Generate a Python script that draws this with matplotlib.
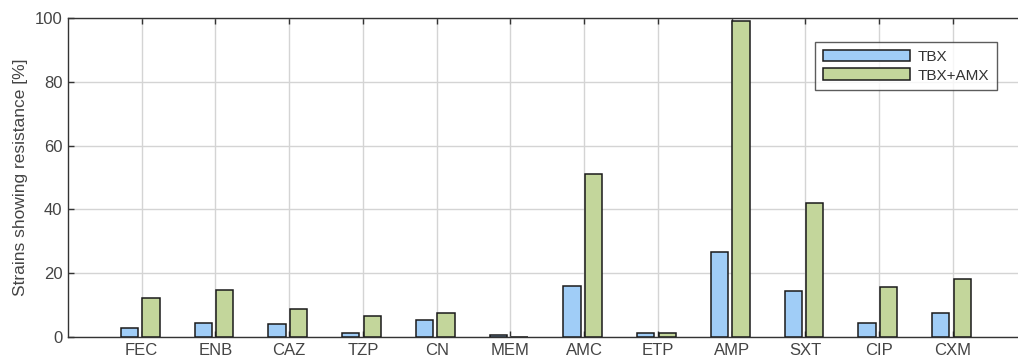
import matplotlib
matplotlib.use("Agg")
import matplotlib.pyplot as plt
import numpy as np

categories = ["FEC", "ENB", "CAZ", "TZP", "CN", "MEM", "AMC", "ETP", "AMP", "SXT", "CIP", "CXM"]
tbx = [2.7, 4.5, 4.1, 1.2, 5.3, 0.5, 16.0, 1.2, 26.5, 14.5, 4.5, 7.5]
tbx_amx = [12.3, 14.6, 8.8, 6.7, 7.4, 0.0, 51.0, 1.2, 99.2, 42.1, 15.6, 18.1]
series_names = ["TBX", "TBX+AMX"]
yticks = [0, 20, 40, 60, 80, 100]

plt.rcParams['font.family'] = ['Liberation Sans', 'DejaVu Sans']

fig = plt.figure(figsize=(10.18, 3.56), dpi=100)
ax = fig.add_axes([68/1018, 1-337/356, (1026.7-68)/1018, (337-18)/356])

x = np.arange(1, len(categories) + 1)
w = 0.235
blue = '#a0cdf7'
green = '#c3d69b'
edge = '#1a1a1a'
ax.bar(x - 0.165, tbx, w, color=blue, edgecolor=edge, linewidth=1.1, label=series_names[0], zorder=3)
ax.bar(x + 0.125, tbx_amx, w, color=green, edgecolor=edge, linewidth=1.1, label=series_names[1], zorder=3)

ax.set_xlim(0, 13)
ax.set_ylim(0, 100)
ax.set_xticks(x)
ax.set_xticklabels(categories)
ax.set_yticks(yticks)
ax.grid(True, color='#d4d4d4', linewidth=1.0, zorder=0)
ax.set_axisbelow(True)
ax.tick_params(direction='in', length=4, width=1, colors='#333333', labelsize=12,
               top=True, right=True, labelcolor='#444444')
ax.tick_params(axis='x', pad=4)
ax.tick_params(axis='y', pad=4)
for s in ax.spines.values():
    s.set_color('#333333')
    s.set_linewidth(1.0)
ax.set_ylabel('Strains showing resistance [%]', fontsize=12.5, color='#444444', labelpad=5)

leg = ax.legend(loc='upper left', bbox_to_anchor=((815-68)/(1026.7-68), 1-(42-18)/319),
                frameon=True, fancybox=False, edgecolor='#333333', fontsize=11,
                handlelength=5.7, handleheight=0.8, borderpad=0.5, labelspacing=0.3,
                handletextpad=0.5, borderaxespad=0)
leg.get_frame().set_linewidth(1.0)
for t in leg.get_texts():
    t.set_color('#333333')

fig.savefig('out.png', dpi=100)
